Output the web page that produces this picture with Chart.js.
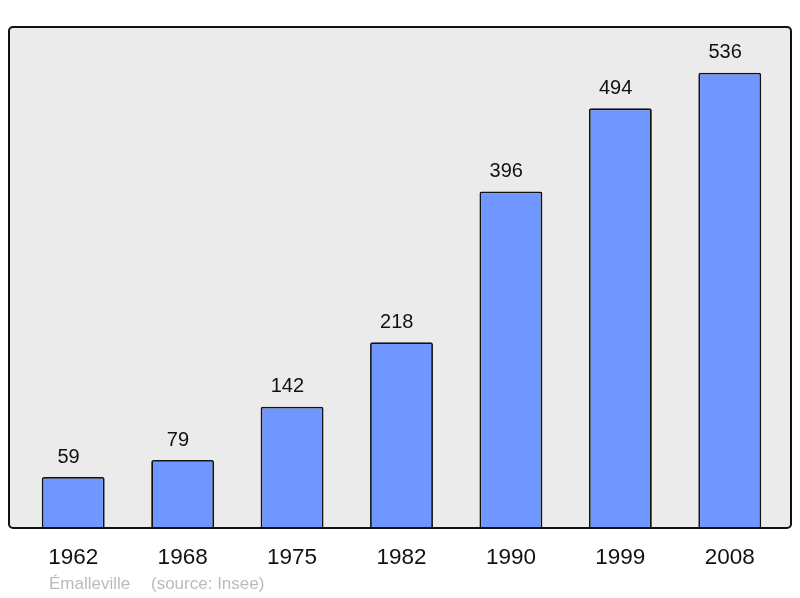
<!DOCTYPE html>
<html>
<head>
<meta charset="utf-8">
<script src="https://cdn.jsdelivr.net/npm/chart.js@4"></script>
<style>
  html, body { margin: 0; padding: 0; background: #fff; }
  #wrap { width: 800px; height: 598px; }
</style>
</head>
<body>
<div id="wrap"><canvas id="popChart" width="800" height="598"></canvas></div>
<script>
// Population data
const years = ['1962', '1968', '1975', '1982', '1990', '1999', '2008'];
const population = [59, 79, 142, 218, 396, 494, 536];
const yMax = 590;
const townName = 'Émalleville';
const sourceText = '(source: Insee)';

// grey rounded panel behind the bars
const panelPlugin = {
    id: 'panel',
    beforeDraw(chart) {
        const { ctx, chartArea: a } = chart;
        const x = a.left - 9.5, y = a.top, w = (a.right + 6.5) - x, h = a.bottom + 1 - y;
        ctx.save();
        ctx.beginPath();
        ctx.roundRect(x, y, w, h, 4);
        ctx.fillStyle = '#ebebeb';
        ctx.fill();
        ctx.lineWidth = 2;
        ctx.strokeStyle = '#111';
        ctx.stroke();
        ctx.restore();
    }
};

// value labels above bars + footer
const labelPlugin = {
    id: 'labels',
    afterDatasetsDraw(chart) {
        const { ctx } = chart;
        const meta = chart.getDatasetMeta(0);
        ctx.save();
        ctx.font = '20px "Liberation Sans", Arial, sans-serif';
        ctx.fillStyle = '#111';
        ctx.textAlign = 'center';
        ctx.textBaseline = 'middle';
        meta.data.forEach((bar, i) => {
            ctx.fillText(String(population[i]), bar.x - 4.7, bar.y - 20);
        });
        ctx.font = '17px "Liberation Sans", Arial, sans-serif';
        ctx.fillStyle = '#bbbbbb';
        ctx.textAlign = 'left';
        ctx.fillText(townName, 49, 584);
        ctx.fillText(sourceText, 151, 584);
        ctx.restore();
    }
};

const ctx = document.getElementById('popChart').getContext('2d');
new Chart(ctx, {
    type: 'bar',
    data: {
        labels: years,
        datasets: [{
            data: population,
            backgroundColor: '#7097ff',
            borderColor: '#111',
            borderWidth: 1.8,
            borderRadius: 2,
            borderSkipped: 'bottom',
            barPercentage: 0.575,
            categoryPercentage: 1
        }]
    },
    options: {
        responsive: false,
        animation: false,
        layout: { padding: { left: 18.5, right: 15.5, top: 27, bottom: 0 } },
        plugins: {
            legend: { display: false },
            tooltip: { enabled: false }
        },
        scales: {
            x: {
                grid: { display: false, drawTicks: false },
                border: { display: false },
                ticks: {
                    color: '#111',
                    font: { family: '"Liberation Sans", Arial, sans-serif', size: 22.5 },
                    padding: 17
                },
                afterFit(scale) { scale.height = 71; }
            },
            y: {
                display: false,
                min: 0,
                max: yMax
            }
        }
    },
    plugins: [panelPlugin, labelPlugin]
});
</script>
</body>
</html>
